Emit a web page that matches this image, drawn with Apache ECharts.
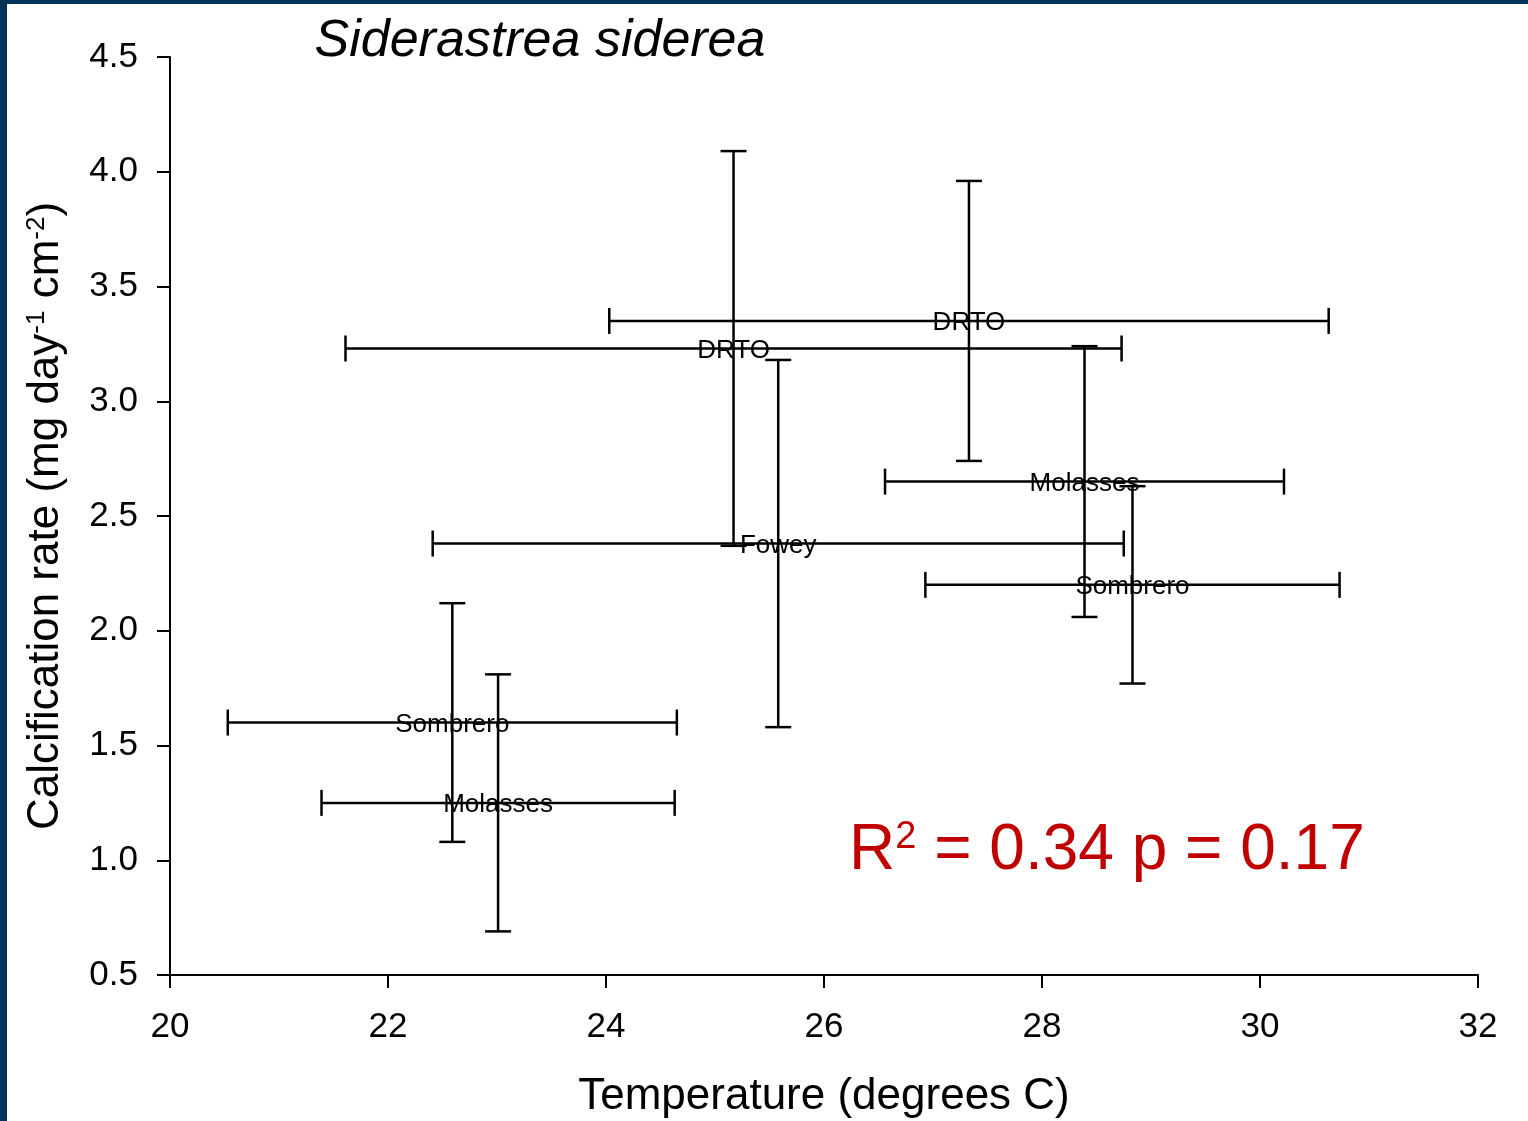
<!DOCTYPE html>
<html>
<head>
<meta charset="utf-8">
<script src="https://cdn.jsdelivr.net/npm/echarts@6/dist/echarts.min.js"></script>
<style>
  html, body { margin: 0; padding: 0; background: #fff; }
  #chart { width: 1528px; height: 1121px; }
</style>
</head>
<body>
<div id="chart"></div>
<script>
// reef sites, mean temperature (+/- sd) and calcification rate (+/- sd)
var sites = ['DRTO', 'DRTO', 'Fowey', 'Molasses', 'Sombrero', 'Sombrero', 'Molasses'];
var temp = [27.33, 25.17, 25.58, 28.39, 28.83, 22.59, 23.01];
var tempErr = [3.30, 3.56, 3.17, 1.83, 1.90, 2.06, 1.62];
var rate = [3.35, 3.23, 2.38, 2.65, 2.20, 1.60, 1.25];
var rateErr = [0.61, 0.86, 0.80, 0.59, 0.43, 0.52, 0.56];

var xTicks = [20, 32, 2];
var yTicks = [0.5, 4.5, 0.5];

var FONT = '"Liberation Sans", Arial, sans-serif';

var data = sites.map(function (s, i) {
  return [temp[i], rate[i], tempErr[i], rateErr[i]];
});

var chart = echarts.init(document.getElementById('chart'));

function renderBars(params, api) {
  var x = api.value(0), y = api.value(1), xe = api.value(2), ye = api.value(3);
  var c = api.coord([x, y]);
  var l = api.coord([x - xe, y]);
  var r = api.coord([x + xe, y]);
  var t = api.coord([x, y + ye]);
  var b = api.coord([x, y - ye]);
  var cap = 13;
  var st = { stroke: '#000', lineWidth: 2.5 };
  function ln(x1, y1, x2, y2) {
    return { type: 'line', shape: { x1: x1, y1: y1, x2: x2, y2: y2 }, style: st };
  }
  return {
    type: 'group',
    children: [
      {
        type: 'text',
        style: {
          text: sites[params.dataIndex],
          x: c[0], y: c[1] + 2,
          align: 'center', verticalAlign: 'middle',
          textAlign: 'center', textVerticalAlign: 'middle',
          fontSize: 26, fontFamily: FONT, fill: '#000'
        }
      },
      ln(l[0], l[1], r[0], r[1]),
      ln(l[0], l[1] - cap, l[0], l[1] + cap),
      ln(r[0], r[1] - cap, r[0], r[1] + cap),
      ln(t[0], t[1], b[0], b[1]),
      ln(t[0] - cap, t[1], t[0] + cap, t[1]),
      ln(b[0] - cap, b[1], b[0] + cap, b[1])
    ]
  };
}

var option = {
  backgroundColor: '#fff',
  animation: false,
  grid: { left: 170, right: 50, top: 57, bottom: 146, outerBoundsMode: 'none', containLabel: false },
  xAxis: {
    type: 'value',
    min: xTicks[0], max: xTicks[1], interval: xTicks[2],
    name: 'Temperature (degrees C)',
    nameLocation: 'middle',
    nameGap: 100,
    nameTextStyle: { fontSize: 44, fontFamily: FONT, color: '#000' },
    axisLine: { lineStyle: { color: '#000', width: 2 } },
    axisTick: { length: 13, lineStyle: { color: '#000', width: 2 } },
    axisLabel: { fontSize: 35, fontFamily: FONT, color: '#000', margin: 35 },
    splitLine: { show: false }
  },
  yAxis: {
    type: 'value',
    min: yTicks[0], max: yTicks[1], interval: yTicks[2],
    name: '{a|Calcification rate (mg day}{s|-1}{a| cm}{s|-2}{a|)}',
    nameLocation: 'middle',
    nameRotate: 90,
    nameGap: 102,
    nameTextStyle: {
      fontSize: 44, fontFamily: FONT, color: '#000',
      rich: {
        a: { fontSize: 44, fontFamily: FONT, color: '#000' },
        s: { fontSize: 26, fontFamily: FONT, color: '#000', verticalAlign: 'top' }
      }
    },
    axisLine: { show: true, lineStyle: { color: '#000', width: 2 } },
    axisTick: { show: true, length: 13, lineStyle: { color: '#000', width: 2 } },
    axisLabel: {
      fontSize: 35, fontFamily: FONT, color: '#000', margin: 32,
      formatter: function (v) { return v.toFixed(1); }
    },
    splitLine: { show: false }
  },
  graphic: [
    { type: 'rect', shape: { x: 0, y: 0, width: 7, height: 1121 }, style: { fill: '#03325a' } },
    { type: 'rect', shape: { x: 0, y: 0, width: 1528, height: 4 }, style: { fill: '#03325a' } },
    {
      type: 'text', x: 540, y: 42,
      style: {
        text: 'Siderastrea siderea',
        align: 'center', verticalAlign: 'middle',
        textAlign: 'center', textVerticalAlign: 'middle',
        fontSize: 52, fontStyle: 'italic', fontFamily: FONT, fill: '#000'
      }
    },
    {
      type: 'text', x: 849, y: 851,
      style: {
        text: '{a|R}{s|2}{a| = 0.34 p = 0.17}',
        align: 'left', verticalAlign: 'middle',
        textAlign: 'left', textVerticalAlign: 'middle',
        fontSize: 64, fontFamily: FONT, fill: '#c00000',
        rich: {
          a: { fontSize: 64, fontFamily: FONT, fill: '#c00000', color: '#c00000' },
          s: { fontSize: 38, fontFamily: FONT, fill: '#c00000', color: '#c00000', verticalAlign: 'top' }
        }
      }
    }
  ],
  series: [{
    type: 'custom',
    renderItem: renderBars,
    data: data,
    clip: false
  }]
};

chart.setOption(option);
</script>
</body>
</html>
